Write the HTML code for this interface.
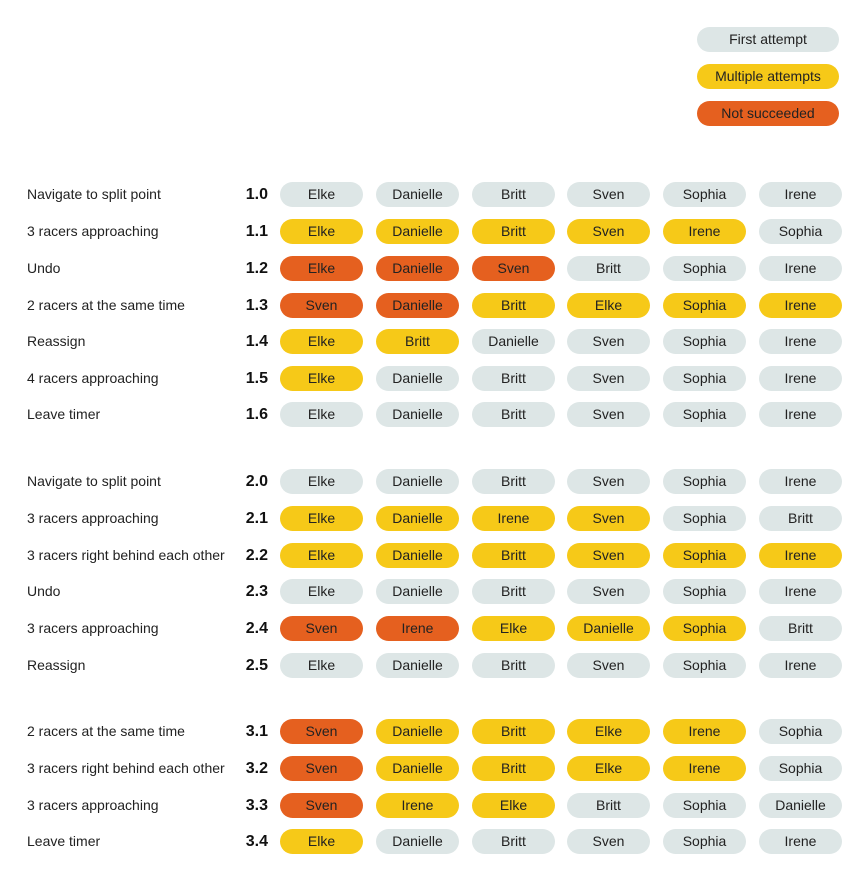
<!DOCTYPE html>
<html><head><meta charset="utf-8"><style>
body{margin:0;width:865px;height:877px;background:#fff;font-family:"Liberation Sans",sans-serif;position:relative;overflow:hidden}
.pill{position:absolute;width:83px;height:25px;border-radius:12.5px;font-size:14px;color:#222;text-align:center;line-height:25px}
.lbl{position:absolute;left:27px;font-size:14px;color:#222;line-height:25px}
.num{position:absolute;width:60px;left:208px;text-align:right;font-size:16px;font-weight:bold;color:#111;line-height:25px}
.g{background:#dde6e6}.y{background:#f6c918}.o{background:#e5601f}
.leg{position:absolute;left:697px;width:142px;height:25px;border-radius:12.5px;font-size:14px;color:#222;text-align:center;line-height:25px}
</style></head><body>
<div class="leg g" style="top:27px">First attempt</div>
<div class="leg y" style="top:64px">Multiple attempts</div>
<div class="leg o" style="top:101px">Not succeeded</div>
<script>
const tasks=["Navigate to split point","3 racers approaching","Undo","2 racers at the same time","Reassign","4 racers approaching","Leave timer",
"Navigate to split point","3 racers approaching","3 racers right behind each other","Undo","3 racers approaching","Reassign",
"2 racers at the same time","3 racers right behind each other","3 racers approaching","Leave timer"];
const steps=["1.0","1.1","1.2","1.3","1.4","1.5","1.6","2.0","2.1","2.2","2.3","2.4","2.5","3.1","3.2","3.3","3.4"];
const rowY=[182,219,256,293,329,366,402,469,506,543,579,616,653,719,756,793,829];
const names=[
["Elke","Danielle","Britt","Sven","Sophia","Irene"],
["Elke","Danielle","Britt","Sven","Irene","Sophia"],
["Elke","Danielle","Sven","Britt","Sophia","Irene"],
["Sven","Danielle","Britt","Elke","Sophia","Irene"],
["Elke","Britt","Danielle","Sven","Sophia","Irene"],
["Elke","Danielle","Britt","Sven","Sophia","Irene"],
["Elke","Danielle","Britt","Sven","Sophia","Irene"],
["Elke","Danielle","Britt","Sven","Sophia","Irene"],
["Elke","Danielle","Irene","Sven","Sophia","Britt"],
["Elke","Danielle","Britt","Sven","Sophia","Irene"],
["Elke","Danielle","Britt","Sven","Sophia","Irene"],
["Sven","Irene","Elke","Danielle","Sophia","Britt"],
["Elke","Danielle","Britt","Sven","Sophia","Irene"],
["Sven","Danielle","Britt","Elke","Irene","Sophia"],
["Sven","Danielle","Britt","Elke","Irene","Sophia"],
["Sven","Irene","Elke","Britt","Sophia","Danielle"],
["Elke","Danielle","Britt","Sven","Sophia","Irene"]];
const status=["gggggg","yyyyyg","ooogggg","ooyyyy","yygggg","yggggg","gggggg",
"gggggg","yyyygg","yyyyyy","gggggg","ooyyyg","gggggg",
"oyyyyg","oyyyyg","oyyggg","yggggg"];
const colX=[280,376,472,567,663,759];
rowY.forEach((y,i)=>{
 const l=document.createElement('div');l.className='lbl';l.style.top=y+'px';l.textContent=tasks[i];
 
 
 document.body.appendChild(l);
 const n=document.createElement('div');n.className='num';n.style.top=y+'px';n.textContent=steps[i];
 
 
 document.body.appendChild(n);
 names[i].forEach((nm,j)=>{
  const p=document.createElement('div');p.className='pill '+status[i][j];
  p.style.top=y+'px';p.style.left=colX[j]+'px';p.textContent=nm;
  
  
  document.body.appendChild(p);
 });
});
</script>
</body></html>
